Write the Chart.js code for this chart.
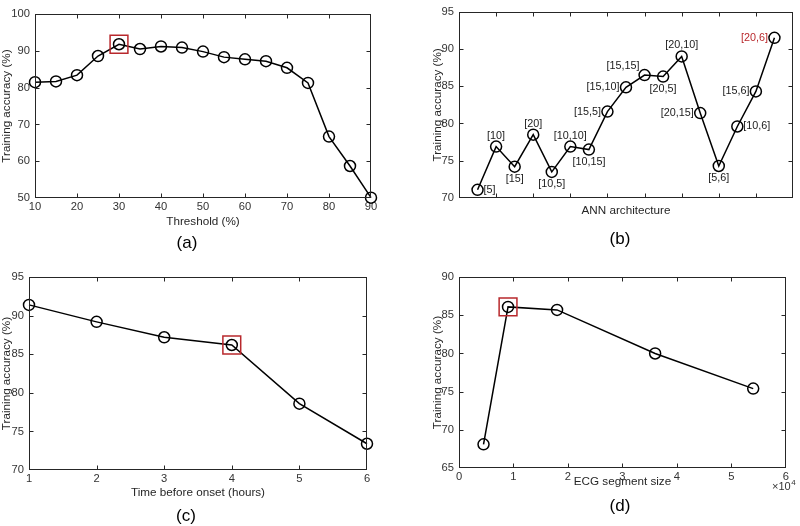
<!DOCTYPE html>
<html><head><meta charset="utf-8">
<script src="https://cdn.jsdelivr.net/npm/chart.js@4"></script>
<style>
html,body{margin:0;padding:0;background:#fff;}
#wrap{position:relative;width:800px;height:526px;overflow:hidden;}
canvas{position:absolute;}
</style></head><body>
<div id="wrap">
<canvas id="ca" width="400" height="263" style="left:0;top:0"></canvas>
<canvas id="cb" width="400" height="263" style="left:400px;top:0"></canvas>
<canvas id="cc" width="400" height="263" style="left:0;top:263px"></canvas>
<canvas id="cd" width="400" height="263" style="left:400px;top:263px"></canvas>
</div>
<script>
// ---------- data ----------
const thresholds = [10,15,20,25,30,35,40,45,50,55,60,65,70,75,80,85,90];
const thresholdAcc = [81.5,81.7,83.4,88.6,91.8,90.5,91.2,90.9,89.8,88.3,87.7,87.2,85.4,81.3,66.7,58.7,50.1];
const bestThreshold = 30;

const archLabels = ['[5]','[10]','[15]','[20]','[10,5]','[10,10]','[10,15]','[15,5]','[15,10]','[15,15]','[20,5]','[20,10]','[20,15]','[5,6]','[10,6]','[15,6]','[20,6]'];
const archAcc = [71.1,76.9,74.2,78.5,73.5,76.9,76.5,81.6,84.85,86.5,86.3,89.0,81.4,74.3,79.6,84.3,91.5];
const bestArch = '[20,6]';

const hoursBefore = [1,2,3,4,5,6];
const hoursAcc = [91.4,89.2,87.2,86.2,78.6,73.4];
const bestHours = 4;

const segmentSizes = [4500,9000,18000,36000,54000];
const segmentAcc = [68.1,86.1,85.7,80.0,75.4];
const bestSegment = 9000;

// label placement for panel (b) (style only)
const archLabelPlacement = ['r','t','b','t','b','t','b','l','l','tl','b','t','l','b','r','l','l'];

// ---------- style ----------
const FONT = '"Liberation Sans", Arial, Helvetica, sans-serif';
const AXIS = '#262626';
const TICKC = '#333333';
const RED = '#b8282c';
const TICKSIZE = 11.2;

const boxPlugin = {
  id: 'matlabBox',
  afterDraw(chart, args, opts) {
    const {ctx, chartArea: a, scales} = chart;
    ctx.save();
    ctx.strokeStyle = AXIS;
    ctx.lineWidth = 1;
    const L = Math.round(a.left)+0.5, R = Math.round(a.right)-0.5, T = Math.round(a.top)+0.5, B = Math.round(a.bottom)-0.5;
    ctx.strokeRect(L, T, R-L, B-T);
    const tl = 4;
    ctx.beginPath();
    const xs = scales.x, ys = scales.y;
    xs.ticks.forEach(t => {
      const px = Math.round(xs.getPixelForValue(t.value))+0.5;
      if (px <= L+1 || px >= R-1) return;
      ctx.moveTo(px, B); ctx.lineTo(px, B-tl);
      ctx.moveTo(px, T); ctx.lineTo(px, T+tl);
    });
    ys.ticks.forEach(t => {
      const py = Math.round(ys.getPixelForValue(t.value))+0.5;
      if (py <= T+1 || py >= B-1) return;
      ctx.moveTo(L, py); ctx.lineTo(L+tl, py);
      ctx.moveTo(R, py); ctx.lineTo(R-tl, py);
    });
    ctx.stroke();
    // panel label
    if (opts.panel) {
      ctx.fillStyle = '#000';
      ctx.font = '17px ' + FONT;
      ctx.textAlign = 'center';
      ctx.textBaseline = 'middle';
      ctx.fillText(opts.panel, opts.px, opts.py);
    }
    if (opts.exponent) {
      ctx.fillStyle = TICKC;
      ctx.textAlign = 'left';
      ctx.textBaseline = 'alphabetic';
      ctx.font = '11px ' + FONT;
      ctx.fillText('\u00d710', opts.ex, opts.ey);
      const w = ctx.measureText('\u00d710').width;
      ctx.font = '8px ' + FONT;
      ctx.fillText(opts.exponent, opts.ex + w + 0.5, opts.ey - 5);
    }
    ctx.restore();
  }
};

const archLabelPlugin = {
  id: 'archLabels',
  afterDatasetsDraw(chart, args, opts) {
    if (!opts.on) return;
    const {ctx} = chart;
    const meta = chart.getDatasetMeta(0);
    ctx.save();
    ctx.font = '10.8px ' + FONT;
    meta.data.forEach((pt, i) => {
      const txt = archLabels[i];
      const p = archLabelPlacement[i];
      ctx.fillStyle = txt === bestArch ? RED : '#1a1a1a';
      let x = pt.x, y = pt.y;
      ctx.textBaseline = 'middle';
      if (p === 't') { ctx.textAlign = 'center'; y -= 11; }
      else if (p === 'b') { ctx.textAlign = 'center'; y += 12; }
      else if (p === 'l') { ctx.textAlign = 'right'; x -= 6.5; }
      else if (p === 'r') { ctx.textAlign = 'left'; x += 6; }
      else if (p === 'tl') { ctx.textAlign = 'right'; x -= 5; y -= 9; }
      ctx.fillText(txt, x, y);
    });
    ctx.restore();
  }
};

function makeChart(id, cfg) {
  const area = cfg.area; // desired chart area in canvas coords
  const H = 263, W = 400;
  return new Chart(document.getElementById(id), {
    type: 'line',
    data: {datasets: cfg.datasets},
    options: {
      responsive: false,
      animation: false,
      devicePixelRatio: 1,
      layout: {padding: {left: 0, top: area.top, right: W - area.right, bottom: 0}},
      plugins: {
        legend: {display: false},
        tooltip: {enabled: false},
        matlabBox: cfg.box,
        archLabels: {on: !!cfg.archLabels}
      },
      scales: {
        x: {
          type: 'linear',
          min: cfg.x.min, max: cfg.x.max,
          grid: {display: false, drawTicks: false},
          border: {display: false},
          ticks: {
            stepSize: cfg.x.step,
            autoSkip: false,
            maxRotation: 0,
            padding: 2,
            color: TICKC,
            font: {family: FONT, size: TICKSIZE},
            callback: cfg.x.cb || (v => v)
          },
          title: {display: true, text: cfg.x.title, color: '#262626',
                  font: {family: FONT, size: 11.7}, padding: {top: 0, bottom: cfg.x.tpad}},
          afterFit(s) { s.height = H - area.bottom; }
        },
        y: {
          type: 'linear',
          min: cfg.y.min, max: cfg.y.max,
          grid: {display: false, drawTicks: false},
          border: {display: false},
          ticks: {stepSize: cfg.y.step, padding: 5, color: TICKC,
                  font: {family: FONT, size: TICKSIZE}},
          title: {display: true, text: 'Training accuracy (%)', color: '#262626',
                  font: {family: FONT, size: 11.7}, padding: {top: cfg.y.tpad, bottom: 0}},
          afterFit(s) { s.width = area.left; }
        }
      }
    },
    plugins: [boxPlugin, archLabelPlugin]
  });
}

function lineDs(xs, ys) {
  return {
    data: xs.map((x, i) => ({x, y: ys[i]})),
    borderColor: '#000', borderWidth: 1.5,
    pointRadius: 5.5, pointBorderWidth: 1.5, pointBorderColor: '#000',
    pointBackgroundColor: 'rgba(0,0,0,0)', pointHoverRadius: 5.5,
    tension: 0, clip: false, order: 2
  };
}
function bestDs(x, y) {
  return {
    data: [{x, y}], showLine: false,
    pointStyle: 'rect', pointRadius: 12.6, pointBorderWidth: 1.5,
    pointBorderColor: RED, pointBackgroundColor: 'rgba(0,0,0,0)',
    clip: false, order: 1
  };
}

makeChart('ca', {
  area: {left: 35, right: 371, top: 5, bottom: 198},
  datasets: [lineDs(thresholds, thresholdAcc),
             bestDs(bestThreshold, thresholdAcc[thresholds.indexOf(bestThreshold)])],
  x: {min: 10, max: 90, step: 10, title: 'Threshold (%)', tpad: 34},
  y: {min: 50, max: 100, step: 10, tpad: 0},
  box: {panel: '(a)', px: 187, py: 243}
});

makeChart('cb', {
  area: {left: 59, right: 396, top: 5, bottom: 198},
  datasets: [lineDs(archLabels.map((_, i) => i + 1), archAcc)],
  x: {min: 0, max: archLabels.length + 1, step: 2, title: 'ANN architecture', tpad: 45, cb: () => ''},
  y: {min: 70, max: 95, step: 5, tpad: 30.5},
  box: {panel: '(b)', px: 220, py: 239},
  archLabels: true
});

makeChart('cc', {
  area: {left: 29, right: 367, top: 13, bottom: 207},
  datasets: [lineDs(hoursBefore, hoursAcc),
             bestDs(bestHours, hoursAcc[hoursBefore.indexOf(bestHours)])],
  x: {min: 1, max: 6, step: 1, title: 'Time before onset (hours)', tpad: 26},
  y: {min: 70, max: 95, step: 5, tpad: 0},
  box: {panel: '(c)', px: 186, py: 253}
});

makeChart('cd', {
  area: {left: 59, right: 396, top: 13, bottom: 205},
  datasets: [lineDs(segmentSizes, segmentAcc),
             bestDs(bestSegment, segmentAcc[segmentSizes.indexOf(bestSegment)])],
  x: {min: 0, max: 60000, step: 10000, title: 'ECG segment size', tpad: 37, cb: v => v / 10000},
  y: {min: 65, max: 90, step: 5, tpad: 30.5},
  box: {panel: '(d)', px: 220, py: 243, exponent: '4', ex: 372, ey: 227}
});
</script>
</body></html>
